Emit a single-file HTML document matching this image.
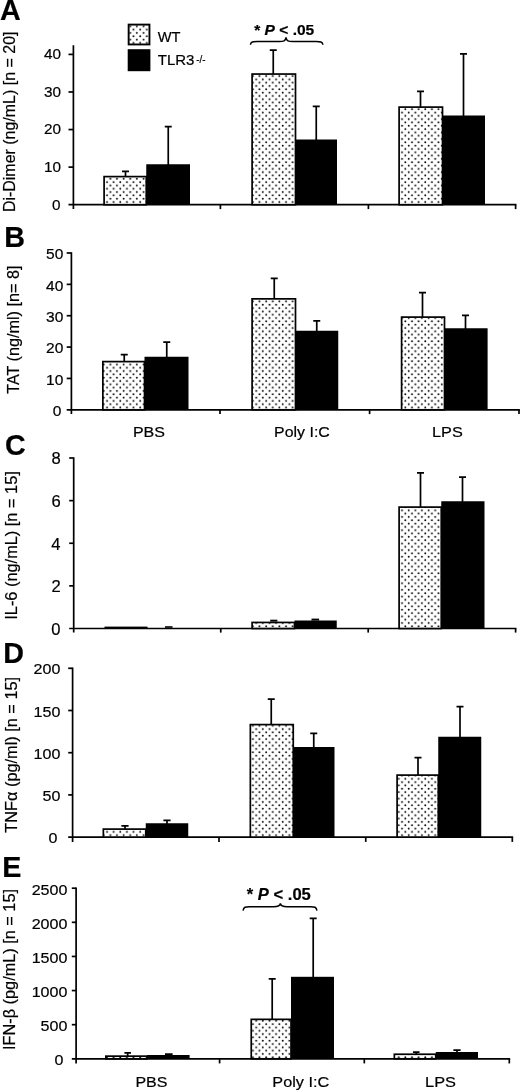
<!DOCTYPE html>
<html><head><meta charset="utf-8"><title>Figure</title>
<style>
html,body{margin:0;padding:0;background:#fff;}
body{width:520px;height:1091px;overflow:hidden;font-family:"Liberation Sans", sans-serif;}
svg{display:block;filter:grayscale(1);}
svg text{font-family:"Liberation Sans", sans-serif;fill:#000;stroke:#000;stroke-width:0.2px;}
</style></head>
<body>
<svg width="520" height="1091" viewBox="0 0 520 1091">
<defs>
<pattern id="dots" x="2.6" y="4.76" width="6.63" height="6.63" patternUnits="userSpaceOnUse">
<rect width="6.63" height="6.63" fill="#fff"/>
<circle cx="1.66" cy="1.66" r="0.96" fill="#000"/>
<circle cx="4.975" cy="4.975" r="0.96" fill="#000"/>
</pattern>
</defs>
<rect width="520" height="1091" fill="#fff"/>
<text x="-0.12" y="19.85" font-size="28.7" font-weight="bold" stroke-width="0">A</text>
<text transform="translate(14.50 212.12) rotate(-90) scale(0.9864 1)" font-size="16.2">Di-Dimer (ng/mL) [n = 20]</text>
<path d="M73.40 45.30V209.10M68.50 204.70H516.45" stroke="#000" stroke-width="1.7" fill="none"/>
<path d="M68.50 54.40H73.40" stroke="#000" stroke-width="1.7"/>
<path d="M68.50 91.97H73.40" stroke="#000" stroke-width="1.7"/>
<path d="M68.50 129.55H73.40" stroke="#000" stroke-width="1.7"/>
<path d="M68.50 167.12H73.40" stroke="#000" stroke-width="1.7"/>
<path d="M220.40 204.70V209.10" stroke="#000" stroke-width="1.7"/>
<path d="M368.40 204.70V209.10" stroke="#000" stroke-width="1.7"/>
<path d="M515.60 204.70V209.10" stroke="#000" stroke-width="1.7"/>
<text transform="translate(44.09 59.20) scale(1.0000 1)" font-size="15.3">40</text>
<text transform="translate(44.09 96.77) scale(1.0000 1)" font-size="15.3">30</text>
<text transform="translate(44.09 134.35) scale(1.0000 1)" font-size="15.3">20</text>
<text transform="translate(44.09 171.93) scale(1.0000 1)" font-size="15.3">10</text>
<text transform="translate(52.08 209.50) scale(1.0000 1)" font-size="15.3">0</text>
<rect x="104.10" y="176.60" width="42.15" height="28.10" fill="url(#dots)" stroke="#000" stroke-width="1.7"/>
<path d="M125.50 176.00V171.00M122.00 171.35H129.00" stroke="#000" stroke-width="1.7" fill="none"/>
<rect x="146.25" y="164.25" width="43.75" height="40.45" fill="#000"/>
<path d="M168.25 165.00V126.25M164.75 126.60H171.75" stroke="#000" stroke-width="1.7" fill="none"/>
<rect x="252.10" y="74.05" width="43.40" height="130.65" fill="url(#dots)" stroke="#000" stroke-width="1.7"/>
<path d="M273.25 74.00V49.75M269.75 50.10H276.75" stroke="#000" stroke-width="1.7" fill="none"/>
<rect x="295.50" y="139.50" width="41.50" height="65.20" fill="#000"/>
<path d="M316.25 140.00V106.00M312.75 106.35H319.75" stroke="#000" stroke-width="1.7" fill="none"/>
<rect x="399.10" y="107.10" width="43.40" height="97.60" fill="url(#dots)" stroke="#000" stroke-width="1.7"/>
<path d="M420.50 107.00V91.00M417.00 91.35H424.00" stroke="#000" stroke-width="1.7" fill="none"/>
<rect x="442.70" y="115.50" width="42.30" height="89.20" fill="#000"/>
<path d="M463.50 116.00V53.50M460.00 53.85H467.00" stroke="#000" stroke-width="1.7" fill="none"/>
<rect x="128.65" y="24.60" width="20.80" height="19.85" fill="url(#dots)" stroke="#000" stroke-width="1.9"/>
<rect x="127.7" y="49.2" width="22.7" height="22" fill="#000"/>
<text transform="translate(157.83 42.30) scale(0.9542 1)" font-size="15.3">WT</text>
<text transform="translate(157.76 65.30) scale(0.9804 1)" font-size="15.3">TLR3</text>
<text transform="translate(196.16 62.70) scale(0.9660 1)" font-size="10.2">-/-</text>
<path d="M250.40 44.80 C250.70 41.80 252.92 41.50 257.12 41.50 H279.28 C283.48 41.50 285.70 41.00 286.00 37.40 C286.30 41.00 288.52 41.50 292.72 41.50 H316.18 C320.38 41.50 322.60 41.80 322.90 44.80" stroke="#000" stroke-width="1.5" fill="none"/>
<text transform="translate(254.21 35.00) scale(1.0359 1)" font-size="15.0" font-weight="bold" stroke-width="0" xml:space="preserve">* <tspan font-style="italic">P</tspan> &lt; .05</text>
<text x="4.31" y="246.50" font-size="28.7" font-weight="bold" stroke-width="0">B</text>
<text transform="translate(19.20 393.76) rotate(-90) scale(1.0004 1)" font-size="16.2">TAT (ng/ml) [n= 8]</text>
<path d="M71.40 252.15V414.10M66.70 409.80H519.85" stroke="#000" stroke-width="1.7" fill="none"/>
<path d="M66.70 253.00H71.40" stroke="#000" stroke-width="1.7"/>
<path d="M66.70 284.36H71.40" stroke="#000" stroke-width="1.7"/>
<path d="M66.70 315.72H71.40" stroke="#000" stroke-width="1.7"/>
<path d="M66.70 347.08H71.40" stroke="#000" stroke-width="1.7"/>
<path d="M66.70 378.44H71.40" stroke="#000" stroke-width="1.7"/>
<path d="M220.00 409.80V414.10" stroke="#000" stroke-width="1.7"/>
<path d="M369.60 409.80V414.10" stroke="#000" stroke-width="1.7"/>
<path d="M519.00 409.80V414.10" stroke="#000" stroke-width="1.7"/>
<text transform="translate(46.02 259.30) scale(1.0100 1)" font-size="15.4">50</text>
<text transform="translate(46.02 290.66) scale(1.0100 1)" font-size="15.4">40</text>
<text transform="translate(46.02 322.02) scale(1.0100 1)" font-size="15.4">30</text>
<text transform="translate(46.02 353.38) scale(1.0100 1)" font-size="15.4">20</text>
<text transform="translate(46.02 384.74) scale(1.0100 1)" font-size="15.4">10</text>
<text transform="translate(52.75 416.10) scale(1.0100 1)" font-size="15.4">0</text>
<rect x="102.85" y="361.60" width="41.65" height="48.20" fill="url(#dots)" stroke="#000" stroke-width="1.7"/>
<path d="M124.25 361.00V354.25M120.75 354.60H127.75" stroke="#000" stroke-width="1.7" fill="none"/>
<rect x="144.50" y="356.75" width="44.00" height="53.05" fill="#000"/>
<path d="M166.75 357.00V341.75M163.25 342.10H170.25" stroke="#000" stroke-width="1.7" fill="none"/>
<rect x="252.10" y="298.85" width="43.40" height="110.95" fill="url(#dots)" stroke="#000" stroke-width="1.7"/>
<path d="M274.25 299.00V278.00M270.75 278.35H277.75" stroke="#000" stroke-width="1.7" fill="none"/>
<rect x="295.50" y="330.75" width="42.75" height="79.05" fill="#000"/>
<path d="M316.75 331.00V320.50M313.25 320.85H320.25" stroke="#000" stroke-width="1.7" fill="none"/>
<rect x="401.60" y="317.10" width="42.90" height="92.70" fill="url(#dots)" stroke="#000" stroke-width="1.7"/>
<path d="M422.50 317.00V292.25M419.00 292.60H426.00" stroke="#000" stroke-width="1.7" fill="none"/>
<rect x="444.50" y="328.25" width="43.10" height="81.55" fill="#000"/>
<path d="M465.50 329.00V315.00M462.00 315.35H469.00" stroke="#000" stroke-width="1.7" fill="none"/>
<text transform="translate(132.93 436.60) scale(1.0386 1)" font-size="15.4">PBS</text>
<text transform="translate(274.09 436.60) scale(1.0336 1)" font-size="15.4">Poly I:C</text>
<text transform="translate(432.06 436.60) scale(1.0552 1)" font-size="15.4">LPS</text>
<text x="5.10" y="454.50" font-size="28.7" font-weight="bold" stroke-width="0">C</text>
<text transform="translate(17.20 619.71) rotate(-90) scale(1.0091 1)" font-size="16.2">IL-6 (ng/mL) [n = 15]</text>
<path d="M73.70 457.20V632.60M69.20 628.50H516.45" stroke="#000" stroke-width="1.7" fill="none"/>
<path d="M69.20 458.00H73.70" stroke="#000" stroke-width="1.7"/>
<path d="M69.20 500.62H73.70" stroke="#000" stroke-width="1.7"/>
<path d="M69.20 543.25H73.70" stroke="#000" stroke-width="1.7"/>
<path d="M69.20 585.88H73.70" stroke="#000" stroke-width="1.7"/>
<path d="M220.75 628.50V632.60" stroke="#000" stroke-width="1.7"/>
<path d="M368.20 628.50V632.60" stroke="#000" stroke-width="1.7"/>
<path d="M515.60 628.50V632.60" stroke="#000" stroke-width="1.7"/>
<text transform="translate(51.39 464.40) scale(1.0000 1)" font-size="16.6">8</text>
<text transform="translate(51.39 507.02) scale(1.0000 1)" font-size="16.6">6</text>
<text transform="translate(51.14 549.65) scale(1.0000 1)" font-size="16.6">4</text>
<text transform="translate(51.52 592.27) scale(1.0000 1)" font-size="16.6">2</text>
<text transform="translate(51.31 634.90) scale(1.0000 1)" font-size="16.6">0</text>
<rect x="104.5" y="626.6" width="43" height="1.9" fill="#000"/>
<rect x="165" y="626.2" width="7.5" height="1.6" fill="#000"/>
<rect x="252.10" y="622.45" width="42.40" height="6.05" fill="url(#dots)" stroke="#000" stroke-width="1.7"/>
<rect x="270.2" y="619.7" width="7.2" height="1.9" fill="#000"/>
<rect x="294.50" y="620.50" width="42.25" height="8.00" fill="#000"/>
<rect x="311.5" y="618.6" width="7.6" height="2" fill="#000"/>
<rect x="399.10" y="507.10" width="42.15" height="121.40" fill="url(#dots)" stroke="#000" stroke-width="1.7"/>
<path d="M420.50 507.00V472.50M417.00 472.85H424.00" stroke="#000" stroke-width="1.7" fill="none"/>
<rect x="441.25" y="501.25" width="43.25" height="127.25" fill="#000"/>
<path d="M462.50 502.00V476.75M459.00 477.10H466.00" stroke="#000" stroke-width="1.7" fill="none"/>
<text x="3.36" y="663.40" font-size="28.7" font-weight="bold" stroke-width="0">D</text>
<text transform="translate(16.90 832.67) rotate(-90) scale(1.0062 1)" font-size="16.2">TNFα (pg/ml) [n = 15]</text>
<path d="M72.60 667.45V841.90M68.20 837.10H513.15" stroke="#000" stroke-width="1.7" fill="none"/>
<path d="M68.20 668.30H72.60" stroke="#000" stroke-width="1.7"/>
<path d="M68.20 710.50H72.60" stroke="#000" stroke-width="1.7"/>
<path d="M68.20 752.70H72.60" stroke="#000" stroke-width="1.7"/>
<path d="M68.20 794.90H72.60" stroke="#000" stroke-width="1.7"/>
<path d="M219.00 837.10V841.90" stroke="#000" stroke-width="1.7"/>
<path d="M365.75 837.10V841.90" stroke="#000" stroke-width="1.7"/>
<path d="M512.30 837.10V841.90" stroke="#000" stroke-width="1.7"/>
<text transform="translate(33.59 674.30) scale(1.0440 1)" font-size="15.4">200</text>
<text transform="translate(33.59 716.50) scale(1.0440 1)" font-size="15.4">150</text>
<text transform="translate(33.59 758.70) scale(1.0440 1)" font-size="15.4">100</text>
<text transform="translate(42.56 800.90) scale(1.0440 1)" font-size="15.4">50</text>
<text transform="translate(48.48 843.10) scale(1.0440 1)" font-size="15.4">0</text>
<rect x="103.35" y="829.10" width="42.40" height="8.00" fill="url(#dots)" stroke="#000" stroke-width="1.7"/>
<path d="M125.00 829.00V825.50M121.40 825.85H128.60" stroke="#000" stroke-width="1.7" fill="none"/>
<rect x="145.75" y="823.25" width="42.50" height="13.85" fill="#000"/>
<path d="M167.00 824.00V820.00M163.40 820.35H170.60" stroke="#000" stroke-width="1.7" fill="none"/>
<rect x="250.35" y="724.60" width="42.90" height="112.50" fill="url(#dots)" stroke="#000" stroke-width="1.7"/>
<path d="M271.25 724.00V698.75M267.75 699.10H274.75" stroke="#000" stroke-width="1.7" fill="none"/>
<rect x="293.25" y="747.00" width="41.25" height="90.10" fill="#000"/>
<path d="M313.75 748.00V733.00M310.25 733.35H317.25" stroke="#000" stroke-width="1.7" fill="none"/>
<rect x="397.10" y="775.10" width="41.15" height="62.00" fill="url(#dots)" stroke="#000" stroke-width="1.7"/>
<path d="M418.00 775.00V757.25M414.50 757.60H421.50" stroke="#000" stroke-width="1.7" fill="none"/>
<rect x="438.25" y="736.75" width="43.00" height="100.35" fill="#000"/>
<path d="M460.00 737.00V706.25M456.50 706.60H463.50" stroke="#000" stroke-width="1.7" fill="none"/>
<text x="2.36" y="877.40" font-size="28.7" font-weight="bold" stroke-width="0">E</text>
<text transform="translate(15.40 1049.91) rotate(-90) scale(1.0057 1)" font-size="16.2">IFN-β (pg/mL) [n = 15]</text>
<path d="M76.10 887.40V1063.40M71.80 1058.80H510.15" stroke="#000" stroke-width="1.7" fill="none"/>
<path d="M71.80 888.20H76.10" stroke="#000" stroke-width="1.7"/>
<path d="M71.80 922.32H76.10" stroke="#000" stroke-width="1.7"/>
<path d="M71.80 956.44H76.10" stroke="#000" stroke-width="1.7"/>
<path d="M71.80 990.56H76.10" stroke="#000" stroke-width="1.7"/>
<path d="M71.80 1024.68H76.10" stroke="#000" stroke-width="1.7"/>
<path d="M219.60 1058.80V1063.40" stroke="#000" stroke-width="1.7"/>
<path d="M364.30 1058.80V1063.40" stroke="#000" stroke-width="1.7"/>
<path d="M509.30 1058.80V1063.40" stroke="#000" stroke-width="1.7"/>
<text transform="translate(31.64 894.50) scale(1.0450 1)" font-size="15.4">2500</text>
<text transform="translate(31.64 928.62) scale(1.0450 1)" font-size="15.4">2000</text>
<text transform="translate(31.64 962.74) scale(1.0450 1)" font-size="15.4">1500</text>
<text transform="translate(31.64 996.86) scale(1.0450 1)" font-size="15.4">1000</text>
<text transform="translate(40.57 1030.98) scale(1.0450 1)" font-size="15.4">500</text>
<text transform="translate(54.47 1065.10) scale(1.0450 1)" font-size="15.4">0</text>
<rect x="105.85" y="1056.15" width="41.15" height="2.65" fill="url(#dots)" stroke="#000" stroke-width="1.7"/>
<path d="M127.70 1056.00V1052.50M124.40 1052.85H131.00" stroke="#000" stroke-width="1.7" fill="none"/>
<rect x="147.00" y="1055.00" width="42.60" height="3.80" fill="#000"/>
<path d="M168.80 1056.00V1053.70M165.00 1054.05H172.60" stroke="#000" stroke-width="1.7" fill="none"/>
<rect x="251.25" y="1019.35" width="39.75" height="39.45" fill="url(#dots)" stroke="#000" stroke-width="1.7"/>
<path d="M272.20 1019.00V978.50M268.70 978.85H275.70" stroke="#000" stroke-width="1.7" fill="none"/>
<rect x="291.00" y="976.80" width="43.00" height="82.00" fill="#000"/>
<path d="M313.20 977.00V918.10M309.70 918.45H316.70" stroke="#000" stroke-width="1.7" fill="none"/>
<rect x="394.35" y="1054.25" width="41.40" height="4.55" fill="url(#dots)" stroke="#000" stroke-width="1.7"/>
<path d="M416.25 1054.00V1051.70M412.95 1052.05H419.55" stroke="#000" stroke-width="1.7" fill="none"/>
<rect x="435.75" y="1052.00" width="42.25" height="6.80" fill="#000"/>
<path d="M457.00 1053.00V1049.70M453.40 1050.05H460.60" stroke="#000" stroke-width="1.7" fill="none"/>
<text transform="translate(135.38 1087.10) scale(1.0403 1)" font-size="15.4">PBS</text>
<text transform="translate(272.36 1087.10) scale(1.0547 1)" font-size="15.4">Poly I:C</text>
<text transform="translate(425.05 1086.90) scale(1.0626 1)" font-size="15.4">LPS</text>
<path d="M243.10 910.60 C243.40 907.00 245.62 906.70 249.82 906.70 H273.68 C277.88 906.70 280.10 906.20 280.40 903.30 C280.70 906.20 282.92 906.70 287.12 906.70 H310.18 C314.38 906.70 316.60 907.00 316.90 910.60" stroke="#000" stroke-width="1.5" fill="none"/>
<text transform="translate(246.71 899.70) scale(1.0380 1)" font-size="16.0" font-weight="bold" stroke-width="0" xml:space="preserve">* <tspan font-style="italic">P</tspan> &lt; .05</text>
</svg>
</body></html>
